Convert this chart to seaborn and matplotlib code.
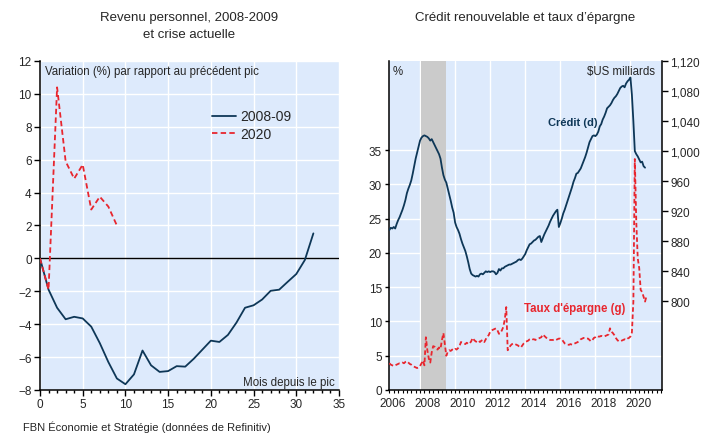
import numpy as np
import pandas as pd
import matplotlib
matplotlib.use("Agg")
import matplotlib.pyplot as plt
import seaborn as sns
from matplotlib.ticker import FuncFormatter, MultipleLocator

sns.set_style("ticks")
plt.rcParams['font.family'] = ['Liberation Sans', 'DejaVu Sans']

NAVY = "#0e3757"
RED = "#e8262e"
BG = "#ddeafc"

# --- left chart: personal income, % change since previous peak ---
income_0809 = [0, -1.9, -3.0, -3.7, -3.55, -3.65, -4.15, -5.15, -6.3, -7.3, -7.65,
               -7.05, -5.6, -6.5, -6.9, -6.85, -6.55, -6.58, -6.1, -5.55, -5.0,
               -5.08, -4.65, -3.9, -3.0, -2.85, -2.5, -1.97, -1.9, -1.42, -0.95,
               -0.1, 1.52]
income_2020 = [0, -1.9, 10.4, 5.9, 4.85, 5.7, 2.97, 3.75, 3.15, 2.0]

# --- right chart: revolving credit ($US bn, right axis) and saving rate (%, left axis) ---
# monthly, starting April 2006
credit = [
    895, 898, 897, 899, 897, 903, 908, 912, 917,                          # 2006
    922, 928, 935, 944, 950, 955, 961, 970, 980, 990, 998, 1006,          # 2007
    1014, 1018, 1020, 1021, 1020, 1019, 1017, 1014, 1016, 1012, 1008, 1004,  # 2008
    1000, 996, 990, 978, 968, 962, 958, 950, 942, 934, 925, 918,          # 2009
    905, 899, 895, 890, 883, 877, 872, 867, 860, 852, 843, 837,           # 2010
    835, 834, 833, 834, 833, 836, 837, 836, 838, 840, 839, 840,           # 2011
    839, 840, 840, 839, 836, 838, 843, 841, 844, 844, 846, 847,           # 2012
    848, 849, 849, 850, 851, 852, 853, 855, 856, 855, 857, 860,           # 2013
    863, 868, 872, 876, 877, 879, 881, 882, 884, 886, 887, 879,           # 2014
    884, 889, 893, 897, 901, 906, 910, 914, 917, 920, 922, 899,           # 2015
    904, 910, 917, 922, 928, 934, 940, 946, 952, 959, 964, 970,           # 2016
    971, 974, 977, 982, 987, 992, 998, 1005, 1012, 1016, 1020, 1021,      # 2017
    1020, 1022, 1026, 1033, 1036, 1042, 1046, 1051, 1057, 1059, 1061, 1064,  # 2018
    1068, 1071, 1073, 1076, 1080, 1084, 1086, 1087, 1085, 1090, 1093, 1095,  # 2019
    1098, 1075, 1040, 1000, 996, 993, 989, 985, 986, 980, 978,            # 2020
]
savings = [
    3.9, 3.7, 3.6, 3.5, 3.6, 3.7, 3.8, 3.9, 3.9,                          # 2006
    4.0, 3.9, 4.1, 4.2, 4.0, 3.8, 3.7, 3.5, 3.4, 3.3, 3.2, 3.3,           # 2007
    3.5, 3.9, 4.3, 3.6, 7.7, 5.8, 4.6, 4.0, 5.5, 6.4, 6.3, 6.0,           # 2008
    5.9, 6.2, 6.0, 7.3, 8.3, 6.6, 5.0, 5.6, 5.8, 5.7, 5.9, 5.8,           # 2009
    6.0, 5.9, 6.1, 6.4, 7.0, 6.9, 6.8, 6.7, 6.9, 6.7, 6.8, 7.1,           # 2010
    7.6, 7.3, 7.1, 7.0, 7.2, 7.0, 7.2, 7.3, 7.0, 7.4, 7.8, 8.0,           # 2011
    8.5, 8.7, 8.8, 8.9, 9.0, 8.7, 8.2, 8.3, 8.7, 9.2, 10.3, 12.1,         # 2012
    5.8, 6.2, 6.5, 6.7, 6.8, 6.7, 6.6, 6.5, 6.3, 6.2, 6.5, 6.8,           # 2013
    7.0, 7.1, 7.2, 7.4, 7.5, 7.4, 7.4, 7.3, 7.5, 7.5, 7.6, 7.7,           # 2014
    8.1, 7.9, 7.7, 7.5, 7.4, 7.3, 7.3, 7.3, 7.4, 7.3, 7.4, 7.5,           # 2015
    7.5, 7.4, 7.1, 6.8, 6.7, 6.6, 6.6, 6.7, 6.6, 6.7, 6.8, 6.9,           # 2016
    7.0, 7.2, 7.4, 7.5, 7.6, 7.6, 7.5, 7.5, 7.3, 7.1, 7.3, 7.6,           # 2017
    7.7, 7.9, 7.8, 7.8, 7.9, 7.8, 7.8, 7.9, 8.0, 8.1, 9.0, 8.5,           # 2018
    8.3, 8.0, 7.6, 7.3, 7.1, 7.1, 7.2, 7.3, 7.4, 7.3, 7.5, 7.6,           # 2019
    7.8, 8.4, 12.9, 33.7, 24.5, 19.2, 17.8, 14.6, 14.3, 13.6, 12.9, 13.7,  # 2020
]
recession = (2008.03, 2009.48)
year_labels = [2006, 2008, 2010, 2012, 2014, 2016, 2018, 2020]
grid_years = [2008, 2010, 2012, 2014, 2016, 2018, 2020]
left_ticks = [0, 5, 10, 15, 20, 25, 30, 35]
right_ticks = [800, 840, 880, 920, 960, 1000, 1040, 1080, 1120]


def decimal_years(start, n):
    d = pd.date_range(start, periods=n, freq="MS")
    return d.year + (d.month - 1) / 12


df_rev = pd.DataFrame({"mois": range(len(income_0809)), "var": income_0809})
df_rev20 = pd.DataFrame({"mois": range(len(income_2020)), "var": income_2020})
df_cred = pd.DataFrame({"t": decimal_years("2006-04-01", len(credit)), "v": credit})
df_sav = pd.DataFrame({"t": decimal_years("2006-04-01", len(savings)), "v": savings})

fig = plt.figure(figsize=(7.07, 4.35), dpi=100)
ax1 = fig.add_axes([40 / 707, 44 / 435, 299 / 707, 329 / 435])
ax2 = fig.add_axes([389 / 707, 44 / 435, 273 / 707, 329 / 435])

# ---------------- left chart ----------------
ax1.set_facecolor(BG)
ax1.set_axisbelow(True)
ax1.grid(True, which="major", color="white", lw=1)
ax1.axhline(0, color="black", lw=1, zorder=2)
sns.lineplot(data=df_rev, x="mois", y="var", ax=ax1, color=NAVY, lw=1.3, label="2008-09", zorder=3)
sns.lineplot(data=df_rev20, x="mois", y="var", ax=ax1, color=RED, lw=1.3,
             linestyle=(0, (3, 1.8)), label="2020", zorder=4)
ax1.set_xlim(0, 35)
ax1.set_ylim(-8, 12)
ax1.xaxis.set_major_locator(MultipleLocator(5))
ax1.xaxis.set_minor_locator(MultipleLocator(1))
ax1.yaxis.set_major_locator(MultipleLocator(2))
ax1.set_xlabel("")
ax1.set_ylabel("")
for s in ["top", "right"]:
    ax1.spines[s].set_visible(False)
for s in ["left", "bottom"]:
    ax1.spines[s].set_color("black")
    ax1.spines[s].set_linewidth(1.1)
ax1.tick_params(axis="both", which="major", labelsize=8.5, length=4, width=1, color="black", pad=2)
ax1.tick_params(axis="x", which="minor", length=2.5, width=1, color="black")
ax1.legend(loc="upper left", bbox_to_anchor=(0.575, 0.853), frameon=False, fontsize=10,
           handlelength=1.7, handletextpad=0.35, labelspacing=0.25, borderpad=0, borderaxespad=0)
ax1.text(0.017, 0.97, "Variation (%) par rapport au précédent pic", transform=ax1.transAxes,
         ha="left", va="center", fontsize=8.3)
ax1.text(0.987, 0.025, "Mois depuis le pic", transform=ax1.transAxes,
         ha="right", va="center", fontsize=8.3)

# ---------------- right chart ----------------
ax2.set_facecolor(BG)
ax2.set_axisbelow(True)
ax2.set_yticks(left_ticks)
ax2.yaxis.grid(True, color="white", lw=1)
for gy in grid_years:
    ax2.axvline(gy, color="white", lw=1, zorder=0.5)
ax2.axvspan(*recession, color="#cbcbcb", lw=0, zorder=1)
sns.lineplot(data=df_sav, x="t", y="v", ax=ax2, color=RED, lw=1.3, linestyle=(0, (2.5, 1.5)), zorder=3)
ax2.set_xlim(2006.23, 2021.8)
ax2.set_ylim(0, 48)
ax2.set_xticks([y + 0.45 for y in year_labels])
ax2.set_xticklabels([str(y) for y in year_labels])
ax2.set_xticks(np.arange(2006.25, 2021.8, 0.25), minor=True)
ax2.tick_params(axis="x", which="major", length=0, labelsize=8.5, pad=5)
ax2.tick_params(axis="x", which="minor", length=2.5, width=0.8, color="black")
ax2.tick_params(axis="y", which="major", length=3, width=1, color="black", labelsize=8.5, pad=2)
ax2.set_xlabel("")
ax2.set_ylabel("")

ax3 = ax2.twinx()
sns.lineplot(data=df_cred, x="t", y="v", ax=ax3, color=NAVY, lw=1.3, zorder=3)
ax3.set_ylim(682, 1120)
ax3.set_yticks(right_ticks)
ax3.yaxis.set_major_formatter(FuncFormatter(lambda v, p: f"{v:,.0f}"))
ax3.tick_params(axis="y", length=4, width=1, color="black", labelsize=8.5, pad=2)
ax3.set_ylabel("")
ax3.set_xlim(2006.23, 2021.8)

for s in ["top", "right"]:
    ax2.spines[s].set_visible(False)
for s in ["top", "left", "bottom"]:
    ax3.spines[s].set_visible(False)
for s in ["left", "bottom"]:
    ax2.spines[s].set_color("black")
    ax2.spines[s].set_linewidth(1.1)
ax3.spines["right"].set_color("black")
ax3.spines["right"].set_linewidth(1.1)

ax2.text(0.015, 0.97, "%", transform=ax2.transAxes, ha="left", va="center", fontsize=8.3)
ax2.text(0.974, 0.97, "$US milliards", transform=ax2.transAxes, ha="right", va="center", fontsize=8.3)
ax2.text(0.672, 0.8155, "Crédit (d)", transform=ax2.transAxes, ha="center", va="center",
         fontsize=8, fontweight="bold", color=NAVY, zorder=5)
ax2.text(0.68, 0.249, "Taux d'épargne (g)", transform=ax2.transAxes, ha="center", va="center",
         fontsize=8.3, fontweight="bold", color=RED, zorder=5)

# titles and source
fig.text(189.5 / 707, 1 - 18 / 435, "Revenu personnel, 2008-2009", ha="center", va="center", fontsize=9.5)
fig.text(189.5 / 707, 1 - 35 / 435, "et crise actuelle", ha="center", va="center", fontsize=9.5)
fig.text(525.5 / 707, 1 - 18 / 435, "Crédit renouvelable et taux d’épargne", ha="center", va="center", fontsize=9.5)
fig.text(23 / 707, 1 - 427 / 435, "FBN Économie et Stratégie (données de Refinitiv)",
         ha="left", va="center", fontsize=8)

fig.savefig("out.png", dpi=100)
